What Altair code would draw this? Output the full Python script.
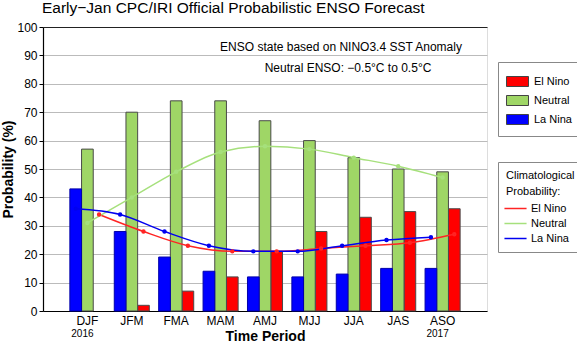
import altair as alt
import pandas as pd

FONT = "Liberation Sans"

periods = ["DJF", "JFM", "FMA", "MAM", "AMJ", "MJJ", "JJA", "JAS", "ASO"]
categories = ["El Nino", "Neutral", "La Nina"]
offset_order = ["La Nina", "Neutral", "El Nino"]

el_nino = [0, 2, 7, 12, 21, 28, 33, 35, 36]
neutral = [57, 70, 74, 74, 67, 60, 54, 50, 49]
la_nina = [43, 28, 19, 14, 12, 12, 13, 15, 15]

clim_el_nino = [34, 28, 23, 21, 21, 22, 23, 24, 27]
clim_neutral = [31, 40, 49, 56, 58, 57, 54, 51, 47]
clim_la_nina = [36, 34, 28, 23, 21, 21, 23, 25, 26]

year_periods = ["DJF", "ASO"]
year_labels = ["2016", "2017"]

title_text = ["Early\u2212Jan CPC/IRI Official Probabilistic ENSO Forecast"]
note1 = ["ENSO state based on NINO3.4 SST Anomaly"]
note2 = ["Neutral ENSO: \u22120.5\u00b0C to 0.5\u00b0C"]
y_ticks = list(range(0, 101, 10))

bar_colors = ["#ff0000", "#9fd666", "#0000ff"]
line_colors = ["#ff2424", "#a6e07c", "#0000f0"]

bars_df = pd.DataFrame({
    "period": periods * 3,
    "category": [c for c in categories for _ in periods],
    "value": el_nino + neutral + la_nina,
})
lines_df = pd.DataFrame({
    "period": periods * 3,
    "clim": [c for c in categories for _ in periods],
    "value": clim_el_nino + clim_neutral + clim_la_nina,
})

x_enc = alt.X(
    "period:N",
    sort=periods,
    scale=alt.Scale(domain=periods, paddingInner=0, paddingOuter=0.5),
    axis=alt.Axis(
        title="Time Period", titleFontSize=14, titleFontWeight="bold", titleFont=FONT,
        titleY=29, titleBaseline="alphabetic", titleColor="black",
        labelAngle=0, labelFontSize=12, labelFont=FONT, labelColor="black",
        labelPadding=4, ticks=False, domainColor="black", domainWidth=1.2,
    ),
)
y_enc = alt.Y(
    "value:Q",
    scale=alt.Scale(domain=[0, 100], nice=False),
    axis=alt.Axis(
        values=y_ticks, title="Probability (%)", titleFontSize=14, titleFontWeight="bold",
        titleFont=FONT, titleColor="black", titleX=-35, titleY=142, titleAlign="center",
        titleBaseline="middle", titleAngle=-90,
        labelFontSize=12, labelFont=FONT, labelColor="black", labelPadding=2,
        tickSize=4, tickColor="black", domainColor="black", domainWidth=1.2,
        grid=True, gridColor={"condition": {"test": "datum.value == 100", "value": "#222222"}, "value": "#bbbbbb"},
    ),
)
offset_scale = alt.Scale(domain=offset_order, paddingInner=0, paddingOuter=0.4)

bars = alt.Chart(bars_df).transform_filter("datum.value > 0").mark_bar(strokeWidth=1).encode(
    x=x_enc,
    xOffset=alt.XOffset("category:N", scale=offset_scale),
    y=y_enc,
    fill=alt.Fill(
        "category:N",
        scale=alt.Scale(domain=categories, range=bar_colors),
        legend=alt.Legend(
            title=None, orient="none", legendX=455, legendY=35,
            symbolType="M-1.1,-0.5H1.1V0.5H-1.1Z", symbolSize=400,
            symbolStrokeColor="#444444", symbolStrokeWidth=1, symbolOpacity=1,
            labelFontSize=11, labelFont=FONT, labelColor="black", labelOffset=6,
            rowPadding=1, padding=9, strokeColor="#888888", fillColor="white",
        ),
    ),
    stroke=alt.condition("datum.category == 'La Nina'", alt.value("#0000aa"), alt.value("#4a4a4a")),
)

lines = alt.Chart(lines_df).mark_line(
    interpolate="monotone", strokeWidth=1.5,
    point=alt.OverlayMarkDef(filled=False, size=6, strokeWidth=2),
).encode(
    x=x_enc,
    xOffset=alt.XOffset("clim:N", scale=offset_scale),
    y=y_enc,
    stroke=alt.Stroke(
        "clim:N",
        sort=categories,
        scale=alt.Scale(range=line_colors),
        legend=alt.Legend(
            title=["Climatological", "Probability:"], titleFontWeight="normal",
            titleFontSize=11, titleFont=FONT, titleColor="black", titleLineHeight=16,
            titlePadding=2, orient="none", legendX=455, legendY=135,
            symbolType="M-1.3,0H1.3", symbolSize=289, symbolStrokeWidth=1.5,
            symbolFillColor="transparent",
            labelFontSize=11, labelFont=FONT, labelColor="black", labelOffset=6,
            rowPadding=0, padding=8, strokeColor="#888888", fillColor="white",
        ),
    ),
)

years = alt.Chart(pd.DataFrame({"period": year_periods, "year": year_labels})).mark_text(
    fontSize=10, font=FONT, dx=-5, baseline="middle", color="black"
).encode(x=x_enc, y=alt.value(307), text="year:N")

title = alt.Chart(pd.DataFrame({"t": title_text})).mark_text(
    fontSize=15.5, font=FONT, align="left", baseline="alphabetic", color="black"
).encode(x=alt.value(-1), y=alt.value(-14), text="t:N")

t1 = alt.Chart(pd.DataFrame({"t": note1})).mark_text(
    fontSize=12, font=FONT, align="center", baseline="middle", color="black"
).encode(x=alt.value(298), y=alt.value(20), text="t:N")
t2 = alt.Chart(pd.DataFrame({"t": note2})).mark_text(
    fontSize=12, font=FONT, align="center", baseline="middle", color="black"
).encode(x=alt.value(305), y=alt.value(41), text="t:N")

chart = alt.layer(bars, lines, years, title, t1, t2).properties(
    width=444, height=284,
    autosize=alt.AutoSizeParams(type="none"),
    padding={"left": 43, "top": 27, "right": 90, "bottom": 31},
).configure_view(stroke="#888888", strokeWidth=1).configure(background="white")

chart.save("out.html", embed_options={"renderer": "svg", "actions": False})
